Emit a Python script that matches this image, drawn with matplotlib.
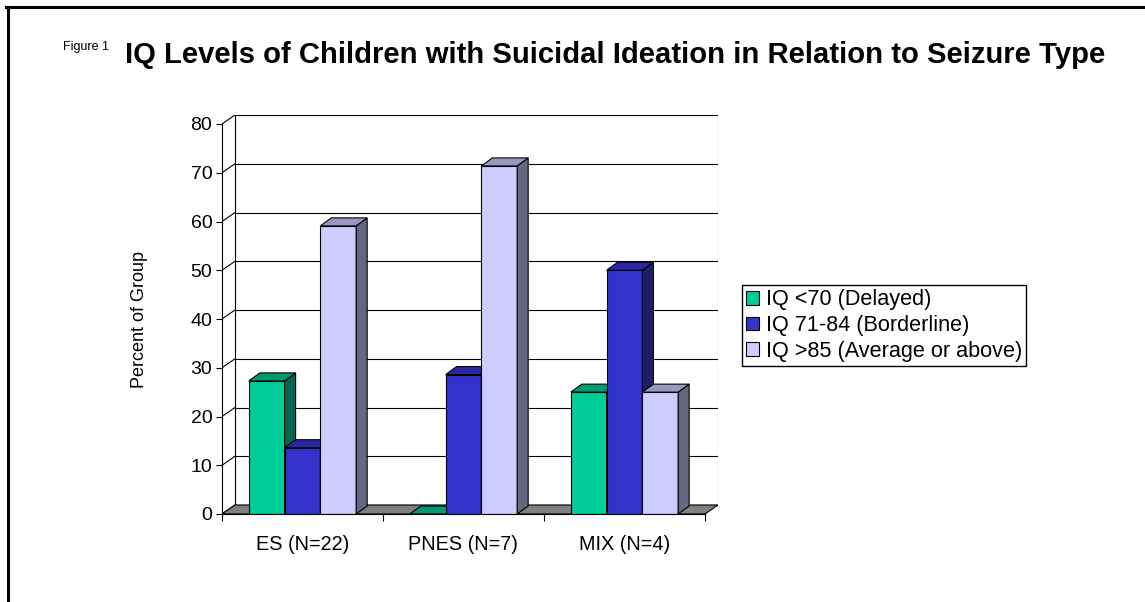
import matplotlib
matplotlib.use('Agg')
import matplotlib.pyplot as plt
from matplotlib.patches import Polygon, Patch
from matplotlib.lines import Line2D

plt.rcParams['font.family'] = ['Liberation Sans', 'DejaVu Sans']

# data
categories = ['ES (N=22)', 'PNES (N=7)', 'MIX (N=4)']
series = ['IQ <70 (Delayed)', 'IQ 71-84 (Borderline)', 'IQ >85 (Average or above)']
delayed = [27.3, 0, 25]
borderline = [13.6, 28.6, 50]
average = [59.1, 71.4, 25]
yticks = [0, 10, 20, 30, 40, 50, 60, 70, 80]

values = [delayed, borderline, average]
front_col = ['#00CC99', '#3333CC', '#CCCCFF']
top_col = ['#009973', '#2828A3', '#9999C0']
side_col = ['#00664F', '#1E1E66', '#666680']

W, H = 1145, 602
fig = plt.figure(figsize=(W / 100, H / 100), dpi=100)

# axes in pixel terms: front plane x 222..705, back wall up to 718, y 0 at 514, 80 at 124
px_x = 161.0          # pixels per category
px_y = 4.875          # pixels per percent
ddx, ddy = 13 / px_x, 9 / px_y     # wall depth
bdx, bdy = 11 / px_x, 8 / px_y     # bar depth
ymax = 80
ax_w = (3 + ddx) * px_x
ax_h = (ymax + ddy) * px_y
ax = fig.add_axes([222 / W, (H - 514) / H, ax_w / W, ax_h / H])
ax.set_xlim(0, 3 + ddx)
ax.set_ylim(0, ymax + ddy)

ec = 'black'
lw = 0.8

# back wall gridlines + side wall diagonals
for v in yticks:
    ax.plot([ddx, 3 + ddx], [v + ddy, v + ddy], color=ec, lw=lw, zorder=1)
    ax.plot([0, ddx], [v, v + ddy], color=ec, lw=lw, zorder=1)
ax.plot([ddx, ddx], [ddy, ymax + ddy], color=ec, lw=lw, zorder=1)
ax.plot([3 + ddx, 3 + ddx], [ddy, ymax + ddy], color='#555555', lw=lw, zorder=1)

# floor
ax.add_patch(Polygon([(0, 0), (3, 0), (3 + ddx, ddy), (ddx, ddy)],
                     closed=True, facecolor='#808080', edgecolor=ec, lw=lw, zorder=2))

# bars
bw = 1 / 4.5
z = 3
for i in range(len(categories)):
    for j in range(len(values)):
        h = values[j][i]
        x0 = i + 0.75 * bw + j * bw
        ax.bar(x0, h, width=bw, align='edge', color=front_col[j],
               edgecolor=ec, lw=lw, zorder=z)
        ax.add_patch(Polygon([(x0 + bw, 0), (x0 + bw + bdx, bdy),
                              (x0 + bw + bdx, h + bdy), (x0 + bw, h)],
                             closed=True, facecolor=side_col[j], edgecolor=ec,
                             lw=lw, zorder=z))
        ax.add_patch(Polygon([(x0, h), (x0 + bw, h), (x0 + bw + bdx, h + bdy),
                              (x0 + bdx, h + bdy)],
                             closed=True, facecolor=top_col[j], edgecolor=ec,
                             lw=lw, zorder=z))
        z += 1

# axes
for s in ['top', 'right']:
    ax.spines[s].set_visible(False)
ax.spines['left'].set_bounds(0, ymax)
ax.spines['bottom'].set_bounds(0, 3)
ax.spines['left'].set_linewidth(lw)
ax.spines['bottom'].set_linewidth(lw)
ax.spines['left'].set_zorder(20)
ax.spines['bottom'].set_zorder(20)

ax.set_yticks(yticks)
ax.set_yticklabels([str(v) for v in yticks])
ax.tick_params(axis='y', length=4, width=lw, pad=3, labelsize=14)
ax.set_xticks([0.5, 1.5, 2.5])
ax.set_xticklabels(categories)
ax.set_xticks([0, 1, 2, 3], minor=True)
ax.tick_params(axis='x', which='major', length=0, pad=15, labelsize=14.3)
ax.tick_params(axis='x', which='minor', length=5, width=lw)

ax.set_ylabel('Percent of Group', fontsize=13)
ax.yaxis.set_label_coords((148 - 222) / ax_w, (514 - 320) / ax_h)

# legend
handles = [Patch(facecolor=front_col[j], edgecolor='black', lw=0.8) for j in range(3)]
fig.legend(handles, series, loc='upper left', bbox_to_anchor=(742 / W, 1 - 285 / H),
           borderaxespad=0, frameon=True, fancybox=False, edgecolor='black',
           fontsize=15.6, handlelength=0.6, handleheight=0.6, handletextpad=0.3,
           labelspacing=0.22, borderpad=0.2, framealpha=1)

# titles
fig.text(125 / W, 1 - 55 / H, 'IQ Levels of Children with Suicidal Ideation in Relation to Seizure Type',
         fontsize=21.1, fontweight='bold', va='center', ha='left')
fig.text(63 / W, 1 - 47 / H, 'Figure 1', fontsize=9, va='center', ha='left')

# page frame (top and left edges)
fig.add_artist(Line2D([6 / W, 1], [1 - 6.5 / H, 1 - 6.5 / H], transform=fig.transFigure,
                      color='black', lw=2.2))
fig.add_artist(Line2D([7.5 / W, 7.5 / W], [0, 1 - 6.5 / H], transform=fig.transFigure,
                      color='black', lw=2.2))

fig.savefig('out.png', dpi=100)
